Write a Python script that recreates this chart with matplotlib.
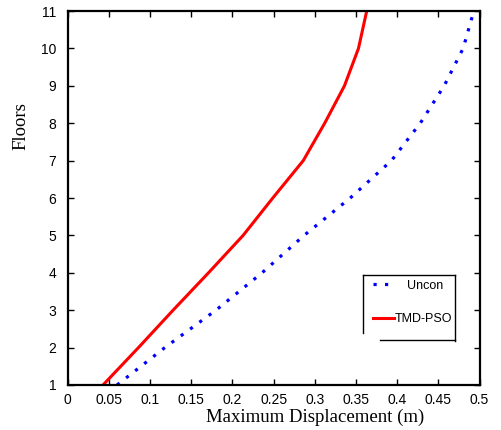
import matplotlib
matplotlib.use("Agg")
import matplotlib.pyplot as plt
from matplotlib.lines import Line2D

# floor numbers and peak displacement (m) per floor
floors = [1, 2, 3, 4, 5, 6, 7, 8, 9, 10, 11]
uncon = [0.060, 0.118, 0.180, 0.236, 0.287, 0.343, 0.393, 0.428, 0.457, 0.480, 0.493]
tmd_pso = [0.043, 0.086, 0.128, 0.171, 0.213, 0.249, 0.286, 0.312, 0.336, 0.353, 0.363]

x_ticks = [0, 0.05, 0.1, 0.15, 0.2, 0.25, 0.3, 0.35, 0.4, 0.45, 0.5]
x_tick_labels = ["0", "0.05", "0.1", "0.15", "0.2", "0.25", "0.3", "0.35", "0.4", "0.45", "0.5"]
y_ticks = [1, 2, 3, 4, 5, 6, 7, 8, 9, 10, 11]

W, H = 502, 430
fig = plt.figure(figsize=(W / 100, H / 100), dpi=100)
# axes box in pixels: left 67.6, right 479.6, top 11, bottom 385
ax = fig.add_axes([67.6 / W, 1 - 385 / H, 412 / W, 374 / H])

line_u, = ax.plot(uncon, floors, color="#0000ff", lw=2.3, linestyle=(0, (1, 2.6)),
                  dash_capstyle="butt")
line_t, = ax.plot(tmd_pso, floors, color="#ff0000", lw=2.2)

ax.set_xlim(0, 0.5)
ax.set_ylim(1, 11)
ax.set_xticks(x_ticks)
ax.set_xticklabels(x_tick_labels)
ax.set_yticks(y_ticks)

sans = ["Liberation Sans", "DejaVu Sans"]
serif = ["Liberation Serif", "DejaVu Serif"]

ax.tick_params(direction="in", top=True, right=True, length=4, width=1.0,
               labelsize=10)
ax.tick_params(axis="x", pad=6)
ax.tick_params(axis="y", pad=8)
for lab in ax.get_xticklabels() + ax.get_yticklabels():
    lab.set_family(sans)
for sp in ax.spines.values():
    sp.set_linewidth(1.6)

# axis titles sit off-centre in the original
fig.text(315 / W, 1 - 422 / H, "Maximum Displacement (m)", ha="center",
         va="baseline", fontsize=13.5, family=serif)
fig.text(21 / W, 1 - 126.5 / H, "Floors", ha="center", va="center",
         rotation=90, fontsize=13.5, family=serif)

# two legend pieces, text offsets differ in the original
leg1 = ax.legend([line_u], ["Uncon"], loc="center left",
                 bbox_to_anchor=(373 / W, 1 - 285.7 / H), bbox_transform=fig.transFigure,
                 frameon=False, borderpad=0, borderaxespad=0, handlelength=1.7,
                 handletextpad=1.0, prop={"family": sans, "size": 9})
ax.add_artist(leg1)
ax.legend([line_t], ["TMD-PSO"], loc="center left",
          bbox_to_anchor=(373 / W, 1 - 319 / H), bbox_transform=fig.transFigure,
          frameon=False, borderpad=0, borderaxespad=0, handlelength=1.7,
          handletextpad=0.0, prop={"family": sans, "size": 9})

# broken legend frame
def px_line(x0, y0, x1, y1):
    fig.add_artist(Line2D([x0 / W, x1 / W], [1 - y0 / H, 1 - y1 / H],
                          transform=fig.transFigure, color="black", lw=1.0))

px_line(363, 275, 455, 275)
px_line(363, 275, 363, 333)
px_line(455, 275, 455, 341)
px_line(380, 340, 455, 340)

fig.savefig("out.png", dpi=100)
